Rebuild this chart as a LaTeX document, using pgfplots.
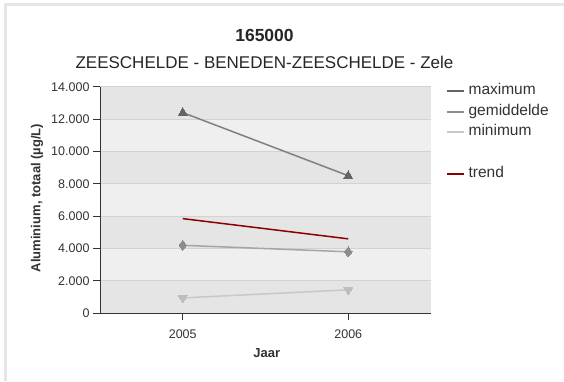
\documentclass[border=0pt]{standalone}
\usepackage{pgfplots}
\pgfplotsset{compat=1.18}
\usepackage{fontspec}
\setmainfont{Liberation Sans}
\definecolor{bandD}{RGB}{229,229,229}
\definecolor{bandL}{RGB}{239,239,239}
\definecolor{gridc}{RGB}{210,210,210}
\definecolor{axc}{RGB}{51,51,51}
\definecolor{maxl}{RGB}{128,128,128}
\definecolor{maxm}{RGB}{100,100,100}
\definecolor{geml}{RGB}{165,165,165}
\definecolor{gemm}{RGB}{140,140,140}
\definecolor{minl}{RGB}{200,200,200}
\definecolor{minm}{RGB}{190,190,190}
\definecolor{trendc}{RGB}{139,0,0}
\definecolor{framec}{RGB}{230,230,230}
\begin{document}
\begin{tikzpicture}[x=1bp,y=1bp]
\path[use as bounding box, fill=white] (0,0) rectangle (564,381);
\fill[framec] (4,0) rectangle (7,378);
\fill[framec] (4,375) rectangle (564,378);
\node[font=\bfseries\fontsize{17.5bp}{20bp}\selectfont, text=black!85] at (264.5,346) {165000};
\node[font=\fontsize{17bp}{20bp}\selectfont, text=black!85] at (264.5,319) {ZEESCHELDE - BENEDEN-ZEESCHELDE - Zele};
% background bands (decoration)
\fill[bandD] (100,67.7) rectangle (431,294.3);
\foreach \k in {1,3,5} {
  \fill[bandL] (100,{67.7+\k*32.3714}) rectangle (431,{67.7+(\k+1)*32.3714});
}
\begin{axis}[
  at={(100bp,67.7bp)}, anchor=south west, scale only axis,
  width=331bp, height=226.6bp,
  xmin=-0.5, xmax=1.5, ymin=0, ymax=14000,
  xtick={0,1}, xticklabels={2005,2006},
  ytick={0,2000,4000,6000,8000,10000,12000,14000},
  scaled y ticks=false,
  yticklabel style={/pgf/number format/1000 sep={.}, /pgf/number format/assume math mode=true},
  xticklabel style={yshift=-6bp},
  axis x line*=bottom, axis y line*=left,
  axis line style={draw=axc, line width=1bp, -},
  tick align=outside, major tick length=7bp,
  tick style={draw=axc, line width=1bp},
  ymajorgrids, grid style={draw=gridc, line width=1bp},
  tick label style={font=\fontsize{12.5bp}{15bp}\selectfont, text=axc},
  xlabel={Jaar}, ylabel={Aluminium, totaal (µg/L)},
  every axis x label/.style={at={(axis description cs:0.504,-0.1765)}, anchor=center,
    font=\bfseries\fontsize{13bp}{15bp}\selectfont, text=axc},
  every axis y label/.style={at={(axis description cs:-0.190,0.509)}, anchor=center, rotate=90,
    font=\bfseries\fontsize{13bp}{15bp}\selectfont, text=axc},
  clip=false,
  legend style={at={(axis description cs:1.045,1.015)}, anchor=north west, draw=none, fill=none,
    inner sep=0pt, row sep=5.7bp, font=\fontsize{15.5bp}{18bp}\selectfont, text=axc,
    nodes={inner ysep=0pt, inner xsep=3.5bp, text height=11bp, text depth=4bp, anchor=west}},
  legend cell align=left,
]
\addplot[maxl, line width=1.5bp, mark=triangle*, mark size=5bp, mark options={draw=maxm, fill=maxm, line width=0pt},
  legend image code/.code={\draw[maxm, line width=2bp] (0bp,0bp) -- (17bp,0bp);}]
  coordinates {(0,12400) (1,8500)};
\addlegendentry{maximum}
\addplot[geml, line width=1.5bp, mark=diamond*, mark size=5bp, mark options={draw=gemm, fill=gemm, line width=0pt},
  legend image code/.code={\draw[gemm, line width=2bp] (0bp,0bp) -- (17bp,0bp);}]
  coordinates {(0,4200) (1,3800)};
\addlegendentry{gemiddelde}
\addplot[minl, line width=1.5bp, mark=triangle*, mark size=5bp, mark options={draw=minm, fill=minm, line width=0pt, rotate=180},
  legend image code/.code={\draw[minl, line width=2bp] (0bp,0bp) -- (17bp,0bp);}]
  coordinates {(0,950) (1,1450)};
\addlegendentry{minimum}
\addlegendimage{empty legend}
\addlegendentry{}
\addplot[trendc, line width=1.5bp, mark=none,
  legend image code/.code={\draw[trendc, line width=2bp] (0bp,0bp) -- (17bp,0bp);}]
  coordinates {(0,5850) (1,4600)};
\addlegendentry{trend}
\end{axis}
\end{tikzpicture}
\end{document}
